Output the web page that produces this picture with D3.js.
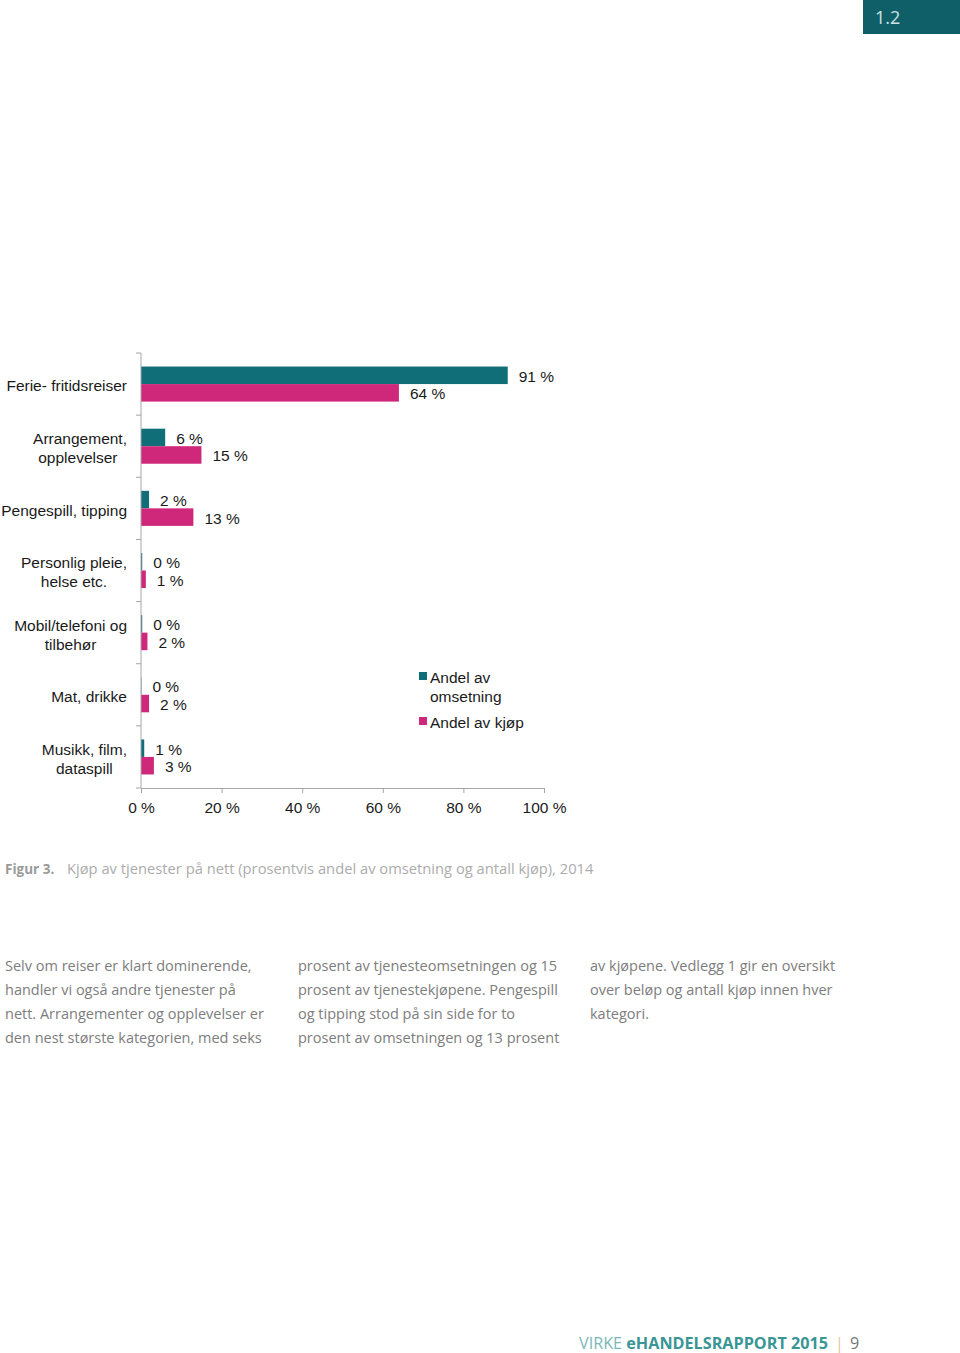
<!DOCTYPE html>
<html><head><meta charset="utf-8">
<script src="https://cdn.jsdelivr.net/npm/d3@7"></script>
<style>html,body{margin:0;padding:0;background:#fff}svg{display:block}</style>
</head><body>
<script>
// ---- data ----
const categories = [
  ["Ferie- fritidsreiser"],
  ["Arrangement,", "opplevelser "],
  ["Pengespill, tipping"],
  ["Personlig pleie,", "helse etc."],
  ["Mobil/telefoni og", "tilbehør"],
  ["Mat, drikke"],
  ["Musikk, film,", "dataspill"]
];
const seriesNames = ["Andel av omsetning", "Andel av kjøp"];
const omsetning = [91, 6, 2, 0.3, 0.3, 0.1, 0.8];
const kjop = [64, 15, 13, 1.2, 1.6, 2, 3.2];
const xTicks = [0, 20, 40, 60, 80, 100];
const caption = ["Figur 3.", "Kjøp av tjenester på nett (prosentvis andel av omsetning og antall kjøp), 2014"];
const bodyCols = [
  ["Selv om reiser er klart dominerende,", "handler vi også andre tjenester på", "nett. Arrangementer og opplevelser er", "den nest største kategorien, med seks"],
  ["prosent av tjenesteomsetningen og 15", "prosent av tjenestekjøpene. Pengespill", "og tipping stod på sin side for to", "prosent av omsetningen og 13 prosent"],
  ["av kjøpene. Vedlegg 1 gir en oversikt", "over beløp og antall kjøp innen hver", "kategori."]
];

const W = 960, H = 1353;
const teal = "#0f6e78", pink = "#cf287b", axisC = "#a6a6a6";
const svg = d3.select("body").append("svg").attr("width", W).attr("height", H);
const F = "'Liberation Sans', Arial, sans-serif";
const FS = 15.5;

// badge
svg.append("rect").attr("x", 863).attr("y", 0).attr("width", 97).attr("height", 34).attr("fill", "#0f5f68");
svg.append("text").attr("x", 875).attr("y", 24).attr("font-family", "'Open Sans', sans-serif")
  .attr("font-size", 18).attr("fill", "#cde3e3").text("1.2");

// chart
const keys = categories.map((c, i) => "c" + i);
const x = d3.scaleLinear().domain([0, 100]).range([141, 544]);
const y = d3.scaleBand().domain(keys).range([353, 788]).paddingInner(0.436).paddingOuter(0.218);
const ys = d3.scaleBand().domain([0, 1]).range([0, y.bandwidth()]);
const vals = [omsetning, kjop], cols = [teal, pink];

const g = svg.append("g");
vals.forEach((arr, s) => {
  g.selectAll(null).data(arr).enter().append("rect")
    .attr("x", x(0)).attr("y", (d, i) => y(keys[i]) + ys(s))
    .attr("width", d => x(d) - x(0)).attr("height", ys.bandwidth())
    .attr("fill", cols[s]);
  g.selectAll(null).data(arr).enter().append("text")
    .attr("x", d => x(d) + 11).attr("y", (d, i) => y(keys[i]) + ys(s) + ys.bandwidth() / 2 + 1)
    .attr("dy", "0.35em").attr("font-family", F).attr("font-size", FS).attr("fill", "#1a1a1a")
    .text(d => Math.round(d) + " %");
});

// y axis line + ticks at category boundaries
const step = y.step(), y0 = y.range()[0], y1 = y.range()[1];
g.append("line").attr("x1", x(0)).attr("x2", x(0)).attr("y1", y0).attr("y2", y1).attr("stroke", axisC);
d3.range(keys.length + 1).forEach(i => {
  const yy = y0 + i * step;
  g.append("line").attr("x1", x(0) - 5).attr("x2", x(0)).attr("y1", yy).attr("y2", yy).attr("stroke", axisC);
});
// x axis
const xa = svg.append("g").attr("transform", `translate(0,${y1})`).call(d3.axisBottom(x).tickValues(xTicks).tickSize(5).tickPadding(9).tickFormat(d => d + " %"));
xa.select(".domain").attr("stroke", axisC);
xa.selectAll(".tick line").attr("stroke", axisC);
xa.selectAll("text").attr("font-family", F).attr("font-size", FS).attr("fill", "#1a1a1a");

// category labels: block right-aligned at 127, lines centered
categories.forEach((lines, i) => {
  const cy = y(keys[i]) + y.bandwidth() / 2 + 2;
  const t = svg.append("g");
  const texts = lines.map((l, j) => t.append("text").attr("xml:space", "preserve")
    .attr("font-family", F).attr("font-size", FS).attr("fill", "#1a1a1a")
    .attr("text-anchor", "middle").attr("dy", "0.35em")
    .attr("y", cy + (j - (lines.length - 1) / 2) * 19).text(l));
  const maxW = d3.max(texts, tt => tt.node().getComputedTextLength());
  texts.forEach(tt => tt.attr("x", 127 - maxW / 2));
});

// legend
const leg = [[seriesNames[0], ["Andel av", "omsetning"], 678], [seriesNames[1], ["Andel av kjøp"], 723]];
leg.forEach((l, i) => {
  svg.append("rect").attr("x", 419).attr("y", l[2] - 6).attr("width", 8).attr("height", 8).attr("fill", cols[i]);
  l[1].forEach((ln, j) => svg.append("text").attr("x", 430).attr("y", l[2] + j * 19).attr("dy", "0.35em")
    .attr("font-family", F).attr("font-size", FS).attr("fill", "#1a1a1a").text(ln));
});

// caption
const OF = "'Open Sans', sans-serif";
svg.append("text").attr("x", 5).attr("y", 874).attr("font-family", OF).attr("font-weight", "bold")
  .attr("font-size", 13.5).attr("fill", "#9a9a9a").text(caption[0]);
const cap = svg.append("text").attr("x", 67).attr("y", 874).attr("font-family", OF)
  .attr("font-size", 14).attr("fill", "#acacac").text(caption[1]);
const cw = cap.node().getComputedTextLength();
cap.attr("font-size", 14 * 527 / cw);

// body text
const probe = svg.append("text").attr("font-family", OF).attr("font-size", 14).text(bodyCols[0][2]);
const bfs = 14 * 259 / probe.node().getComputedTextLength();
probe.remove();
const colX = [5, 298, 590];
bodyCols.forEach((col, c) => col.forEach((ln, j) => svg.append("text")
  .attr("x", colX[c]).attr("y", 971 + j * 24).attr("font-family", OF).attr("font-size", bfs)
  .attr("fill", "#7d7d7d").text(ln)));

// footer
const ft = svg.append("text").attr("x", 579).attr("y", 1349).attr("font-family", OF).attr("font-size", 16.2);
ft.append("tspan").attr("fill", "#7ab8b8").text("VIRKE ");
ft.append("tspan").attr("fill", "#3a9595").attr("font-weight", "bold").text("eHANDELSRAPPORT 2015");
ft.append("tspan").attr("fill", "#e6c49c").attr("dx", 7).text("|");
ft.append("tspan").attr("fill", "#777").attr("dx", 6).text("9");
</script>
</body></html>
